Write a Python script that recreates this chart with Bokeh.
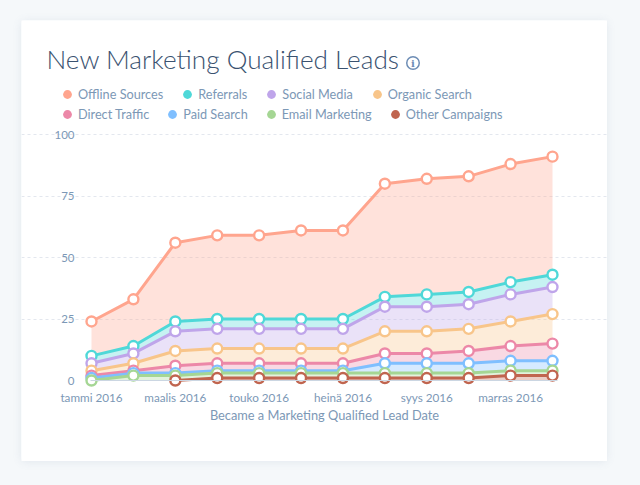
from bokeh.plotting import figure
from bokeh.models import Range1d, FixedTicker, Label, Legend, LegendItem
from bokeh.embed import file_html
from bokeh.resources import INLINE
import numpy as np

months = ["tammi 2016", "helmi 2016", "maalis 2016", "huhti 2016", "touko 2016", "kesä 2016",
          "heinä 2016", "elo 2016", "syys 2016", "loka 2016", "marras 2016", "joulu 2016"]
shown_months = ["tammi 2016", "maalis 2016", "touko 2016", "heinä 2016", "syys 2016", "marras 2016"]
y_ticks = [0, 25, 50, 75, 100]

offline = [24, 33, 56, 59, 59, 61, 61, 80, 82, 83, 88, 91]
referrals = [10, 14, 24, 25, 25, 25, 25, 34, 35, 36, 40, 43]
social = [7, 11, 20, 21, 21, 21, 21, 30, 30, 31, 35, 38]
organic = [4, 7, 12, 13, 13, 13, 13, 20, 20, 21, 24, 27]
direct = [2, 4, 6, 7, 7, 7, 7, 11, 11, 12, 14, 15]
paid = [1, 3, 3, 4, 4, 4, 4, 7, 7, 7, 8, 8]
email = [0, 2, 2, 3, 3, 3, 3, 3, 3, 3, 4, 4]
other = [None, None, 0, 1, 1, 1, 1, 1, 1, 1, 2, 2]

names = ["Offline Sources", "Referrals", "Social Media", "Organic Search",
         "Direct Traffic", "Paid Search", "Email Marketing", "Other Campaigns"]
series = [offline, referrals, social, organic, direct, paid, email, other]
colors = ["#ffa58e", "#4fd8d8", "#bfa5ea", "#f8c58a", "#ec88a8", "#7fbfff", "#a5d694", "#c0654f"]

FONT = "Lato"
TEXT = "#7c98b6"
CARD_L, CARD_T, W, H = 21, 20, 586, 441
X0, XSTEP, Y0, YSTEP = 91, (552 - 91) / 11, 380, 2.46

p = figure(width=W, height=H, output_backend="svg", toolbar_location=None,
           x_range=Range1d((CARD_L - X0) / XSTEP, (CARD_L + W - X0) / XSTEP),
           y_range=Range1d((Y0 - CARD_T - H) / YSTEP, (Y0 - CARD_T) / YSTEP),
           min_border=0)
p.margin = (CARD_T, 0, 0, CARD_L)
p.styles = {"border-radius": "4px", "box-shadow": "0 1px 8px rgba(120,140,170,0.14)"}
p.outline_line_color = None
p.background_fill_color = "white"
p.border_fill_color = "white"

xs = np.arange(len(months))
grid_left, grid_right = (90 - X0) / XSTEP, (557 - X0) / XSTEP

p.xgrid.visible = False
p.ygrid.ticker = FixedTicker(ticks=y_ticks[1:])
p.ygrid.grid_line_color = "#e3e7ee"
p.ygrid.grid_line_dash = "3 3"
p.ygrid.bounds = (grid_left, grid_right)

p.xaxis.ticker = FixedTicker(ticks=[months.index(m) for m in shown_months])
p.xaxis.major_label_overrides = {months.index(m): m for m in shown_months}
p.xaxis.fixed_location = 0
p.xaxis.bounds = (grid_left, grid_right)
p.xaxis.axis_line_color = "#cbd6e2"
p.xaxis.axis_line_width = 1
p.xaxis.major_tick_line_color = None
p.xaxis.minor_tick_line_color = None
p.xaxis.major_label_standoff = 3
p.xaxis.major_label_text_font_size = "11.7px"

p.yaxis.ticker = FixedTicker(ticks=y_ticks)
p.yaxis.fixed_location = (80 - X0) / XSTEP
p.yaxis.axis_line_color = None
p.yaxis.major_tick_line_color = None
p.yaxis.minor_tick_line_color = None
p.yaxis.major_label_standoff = 0
p.yaxis.major_label_text_font_size = "11.5px"

for ax in (p.xaxis[0], p.yaxis[0]):
    ax.major_label_text_font = FONT
    ax.major_label_text_color = TEXT

arrs = [np.array([np.nan if v is None else v for v in s], dtype=float) for s in series]
for i, (a, c) in enumerate(zip(arrs, colors)):
    lower = np.nan_to_num(arrs[i + 1]) if i + 1 < len(arrs) else np.zeros_like(a)
    mask = ~np.isnan(a)
    p.varea(x=xs[mask], y1=lower[mask], y2=a[mask], fill_color=c, fill_alpha=0.32)

for a, c in zip(arrs, colors):
    p.line(xs, a, line_color=c, line_width=3, line_join="round")
    p.scatter(xs, a, size=10, fill_color="white", line_color=c, line_width=2.4)

# legend, two rows
dummies = [p.scatter([float("nan")], [float("nan")], size=9, fill_color=c, line_color=None) for c in colors]
for start, y_mid, spacing in [(0, 94, 13), (4, 113.5, 12.5)]:
    items = [LegendItem(label=names[j], renderers=[dummies[j]]) for j in range(start, start + 4)]
    leg = Legend(items=items, orientation="horizontal",
                 location=(67 - 11 - CARD_L, CARD_T + H - y_mid - 11),
                 background_fill_alpha=0, border_line_color=None,
                 glyph_width=22, glyph_height=22, label_standoff=0, spacing=int(round(spacing)),
                 padding=0, margin=0, label_text_font=FONT, label_text_font_size="12.7px",
                 label_text_color=TEXT, label_height=22)
    p.add_layout(leg)

def page_label(text, x, y, **kw):
    p.add_layout(Label(x=x - CARD_L, y=CARD_T + H - y, x_units="screen", y_units="screen", text=text, **kw))

page_label("New Marketing Qualified Leads", 46, 58, text_font="Lato Light", text_font_size="26.2px",
           text_color="#3a5270", text_baseline="alphabetic")
# info icon: ring and letter, placed in page pixels
p.scatter([(412.5 - X0) / XSTEP], [(Y0 - 62.5) / YSTEP], size=12.5, fill_color="white",
          line_color="#6d8db5", line_width=1.5)
page_label("i", 412.5, 63, text_font="DejaVu Serif", text_font_size="10px", text_font_style="bold",
           text_color="#6d8db5", text_align="center", text_baseline="middle")
page_label("Became a Marketing Qualified Lead Date", 324, 414, text_font=FONT, text_font_size="12.8px",
           text_color=TEXT, text_align="center", text_baseline="middle")

html = file_html(p, INLINE)
html = html.replace("<head>", "<head><style>html,body{background:#f5f8fa;}</style>", 1)
open("out.html", "w").write(html)
